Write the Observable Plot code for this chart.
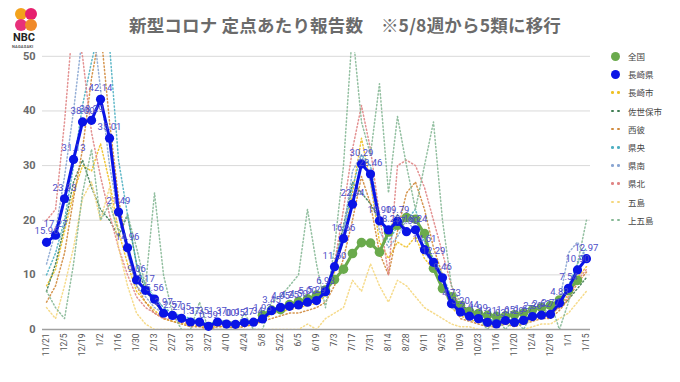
<!DOCTYPE html>
<html><head><meta charset="utf-8">
<script src="https://cdn.jsdelivr.net/npm/d3@7"></script>
<script src="https://cdn.jsdelivr.net/npm/@observablehq/plot@0.6"></script>
<style>
body{margin:0;background:#fff;font-family:Roboto,"Noto Sans CJK JP",sans-serif;}
#wrap{position:relative;width:680px;height:382px;overflow:hidden;background:#fff;}
#title{position:absolute;left:0;width:690px;top:12px;text-align:center;font-family:"Noto Sans CJK JP",sans-serif;font-weight:700;font-size:17.5px;color:#6b6b6b;letter-spacing:0.2px;}
#chart{position:absolute;left:0;top:52px;width:600px;height:330px;overflow:hidden;}
#chart svg{margin-top:-52px;display:block;}
#legend{position:absolute;left:606px;top:47px;font-family:"Noto Sans CJK JP",sans-serif;font-size:8.5px;color:#444;}
.li{height:18.2px;display:flex;align-items:center;}
.mk{width:18px;height:10px;position:relative;margin-right:4px;}
.logo{position:absolute;left:10px;top:6px;width:36px;height:46px;}
</style></head>
<body><div id="wrap">
<div class="logo">
 <div style="position:absolute;left:5px;top:2px;width:12px;height:12px;border-radius:50%;background:#f3a21b"></div>
 <div style="position:absolute;left:15px;top:2px;width:12px;height:12px;border-radius:50%;background:#e6206e"></div>
 <div style="position:absolute;left:5px;top:13px;width:12px;height:12px;border-radius:50%;background:#e8307a"></div>
 <div style="position:absolute;left:15px;top:13px;width:12px;height:12px;border-radius:50%;background:#f08a2a"></div>
 <div style="position:absolute;left:3px;top:25px;font:700 11px Roboto,sans-serif;color:#222;">NBC</div>
 <div style="position:absolute;left:2px;top:38px;font:700 4px Roboto,sans-serif;color:#555;letter-spacing:0.2px">NAGASAKI</div>
</div>
<div id="title">新型コロナ 定点あたり報告数　※5/8週から5類に移行</div>
<div id="chart"></div>
<div id="legend"></div>
</div>
<script>
const weeks = ["2022-11-21","2022-11-28","2022-12-05","2022-12-12","2022-12-19","2022-12-26",
"2023-01-02","2023-01-09","2023-01-16","2023-01-23","2023-01-30","2023-02-06","2023-02-13","2023-02-20","2023-02-27",
"2023-03-06","2023-03-13","2023-03-20","2023-03-27","2023-04-03","2023-04-10","2023-04-17","2023-04-24",
"2023-05-01","2023-05-08","2023-05-15","2023-05-22","2023-05-29","2023-06-05","2023-06-12","2023-06-19","2023-06-26",
"2023-07-03","2023-07-10","2023-07-17","2023-07-24","2023-07-31","2023-08-07","2023-08-14","2023-08-21","2023-08-28",
"2023-09-04","2023-09-11","2023-09-18","2023-09-25","2023-10-02","2023-10-09","2023-10-16","2023-10-23","2023-10-30",
"2023-11-06","2023-11-13","2023-11-20","2023-11-27","2023-12-04","2023-12-11","2023-12-18","2023-12-25",
"2024-01-01","2024-01-08","2024-01-15"];
const tickLabels = ["11/21","12/5","12/19","1/2","1/16","1/30","2/13","2/27","3/13","3/27","4/10","4/24","5/8","5/22","6/5","6/19","7/3","7/17","7/31","8/14","8/28","9/11","9/25","10/9","10/23","11/6","11/20","12/4","12/18","1/1","1/15"];
const yTicks = [0,10,20,30,40,50];

// 長崎県
const nagasakiKen = [15.96,17.27,23.93,31.13,38.00,38.29,42.14,35.01,21.49,14.96,
9.06,7.17,5.56,2.97,2.57,2.05,1.37,1.35,0.59,1.37,
1.00,0.95,1.27,1.34,1.93,3.45,4.05,4.25,4.50,5.00,
5.29,6.93,11.50,16.66,22.94,30.29,28.46,19.90,18.23,19.79,
17.90,18.24,14.61,12.29,9.46,4.73,3.20,2.44,1.99,1.31,
1.03,1.65,1.29,1.67,2.36,2.62,2.77,4.83,7.54,10.90,12.97];
// 全国 (from 5/8 week)
const zenkoku = [null,null,null,null,null,null,null,null,null,null,null,null,null,null,null,null,null,null,null,null,null,null,null,null,
2.63,3.56,3.63,4.55,5.11,5.60,6.31,7.24,9.14,11.04,13.91,15.91,15.81,14.16,17.84,19.07,
20.50,20.19,17.54,11.20,7.50,6.00,4.40,3.30,2.90,2.60,2.40,2.50,2.70,3.00,3.60,4.00,4.40,5.40,7.10,9.00,null];

const nagasakiShi = [8,11,18,25,30,29,34,27,18,12, 7,5,3.5,2,1.5,1.2,0.8,0.6,0.3,0.6, 0.5,0.4,0.7,0.8,1.5,2.8,3.3,3.6,4.0,4.4,
4.8,6.2,10.5,16.5,25,35,27,16,13,16, 15,17,13,11,8,4,2.5,1.8,1.4,1.0, 0.7,1.2,1.0,1.3,2.0,2.2,2.5,4.2,6.5,9.5,11.5];
const sasebo = [7,12,19,27,31,26,22,20,17,21, 12,7,5,3,2.5,2,1.6,1.5,1.0,1.6, 1.5,1.2,1.5,1.6,2.2,3.6,4.2,4.6,4.6,5.2,
5.6,7.2,12,19,27,25,23,20,18,21, 18,18,15,12,9.5,5,3.5,2.6,2.0,1.5, 1.5,2.0,1.5,2.0,2.6,3.0,3.2,4.0,5.5,7.5,9.5];
const seihi = [5,8,14,24,33,46,55,38,24,14, 8,5,3,2,1.5,1,0.5,0.5,0,0.5, 0.5,0.3,0.5,1,1.5,2,2.5,3,3,3.5,
4,5,8,13,20,28,23,14,10,18, 25,27,22,15,10,5,2,1.5,1,0.5, 0.5,1,0.5,1,1.5,2,2,3.5,5.5,8.5,10.5];
const kenou = [10,14,20,30,41,49,56,52,31,21, 12,8,6,4,3,2.5,2,1.5,1,1.5, 1.5,1,1.5,1.5,2,3.5,4.5,4.5,5,5.5,
6,7,12,18,26,32,30,21,16,19, 20,22,16,13,10,6,4,3,2.5,2, 1.5,2,1.5,2,2.5,3,3,5,8,12,15];
const kennan = [12,18,28,40,54,58,44,30,21,14, 8,6,4,3,2.5,2,1.5,1,1,1, 1.5,1,1,1.5,2,3,4,4,4.5,5,
5,7,11,18,29,32,27,18,15,17, 20,18,14,12,8,4,3,2,1.5,1, 1,1.5,1,1.5,2,2.5,3,5,14,16,13];
const kenhoku = [20,22,38,58,50,36,28,21,15,10, 6,4,3,2,2,1.5,1,1,0.5,1, 1,1,1,1.5,2,3,3.5,4,4.5,5,
5,7,12,22,33,41,33,21,10,30, 31,30,26,20,14,8,4,3,2,1.5, 1,1.5,1,1.5,2,2.5,3,4,6,9,11];
const goto = [4,2,8,15,24,27,20,26,15,8, 3,1,0,0,0,0,0,0,0,0, 0,0,0,0,0,0,0,0,0,1,
0,2,3,4,9,7,12,8,5,9, 8,6,4,3,2,1,0.5,0.5,0,0, 0,0,0,0,0.5,1,1,2,3,5,7];
const kamigoto = [7,4,2,12,25,33,20,23,18,21, 15,8,25,10,3,0,0,5,0,0, 0,0,3,0,0,5,6,8,10,22,
12,4,15,30,55,38,32,45,25,39, 30,22,30,38,20,8,5,3,2,0, 2,0,2,0,3,2,5,0,5,12,20];

const dottedSeries = [
  {name:"長崎市", values:nagasakiShi, color:"#efc125"},
  {name:"佐世保市", values:sasebo, color:"#3f7d52"},
  {name:"西彼", values:seihi, color:"#d08a3c"},
  {name:"県央", values:kenou, color:"#4fb0c2"},
  {name:"県南", values:kennan, color:"#8aa6d2"},
  {name:"県北", values:kenhoku, color:"#e08585"},
  {name:"五島", values:goto, color:"#f5d77e"},
  {name:"上五島", values:kamigoto, color:"#86b896"}
];
const blue = "#0a14e6", green = "#6aaa4c";

const ken = weeks.map((w,i)=>({week:w, v:nagasakiKen[i]}));
const zen = weeks.map((w,i)=>({week:w, v:zenkoku[i]})).filter(d=>d.v!=null);
const tickWeeks = tickLabels.map((t,k)=>weeks[2*k]);
const labelOf = new Map(tickWeeks.map((w,k)=>[w,tickLabels[k]]));

const marks = [
  Plot.ruleY(yTicks.slice(1), {stroke:"#d9d9d9", strokeWidth:1}),
  Plot.ruleY([0], {stroke:"#a0a0a0", strokeWidth:1.5}),
];
for (const s of dottedSeries) {
  marks.push(Plot.line(weeks.map((w,i)=>({week:w, v:s.values[i]})), {x:"week", y:"v", stroke:s.color, strokeWidth:1.5, strokeDasharray:"1.2,2.4", strokeOpacity:0.9, clip:true}));
}
marks.push(
  Plot.line(zen, {x:"week", y:"v", stroke:green, strokeWidth:3}),
  Plot.dot(zen, {x:"week", y:"v", r:4.8, fill:green}),
  Plot.line(ken, {x:"week", y:"v", stroke:blue, strokeWidth:3}),
  Plot.dot(ken, {x:"week", y:"v", r:4.6, fill:blue}),
  Plot.text(ken, {x:"week", y:"v", text:d=>d.v.toFixed(2), dy:-11, fill:"#4d4dc8", fontSize:9.5, fontFamily:"Roboto, sans-serif"}),
  Plot.axisY({ticks:yTicks, tickSize:0, tickPadding:7, fontSize:11, fontWeight:"bold", color:"#6a6a6a", label:null}),
  Plot.axisX({ticks:tickWeeks, tickFormat:d=>labelOf.get(d), tickRotate:-90, tickSize:0, tickPadding:4, fontSize:8.5, color:"#555", label:null})
);

const chart = Plot.plot({
  width:600, height:382,
  marginLeft:42, marginRight:10, marginTop:52, marginBottom:53,
  x:{type:"point", domain:weeks, padding:0.45},
  y:{domain:[0,50.7]},
  style:{fontFamily:"Roboto, sans-serif", background:"transparent", overflow:"visible"},
  marks
});
document.getElementById("chart").appendChild(chart);

// legend
const legendItems = [{name:"全国", color:green, type:"dot"},{name:"長崎県", color:blue, type:"dot"}]
  .concat(dottedSeries.map(s=>({name:s.name, color:s.color, type:"dash"})));
const lg = document.getElementById("legend");
for (const it of legendItems) {
  const row = document.createElement("div"); row.className="li";
  const mk = document.createElement("div"); mk.className="mk";
  if (it.type==="dot") {
    mk.innerHTML = `<div style="position:absolute;left:5px;top:0.5px;width:9px;height:9px;border-radius:50%;background:${it.color}"></div>`;
  } else {
    mk.innerHTML = `<div style="position:absolute;left:5px;top:4px;width:2.6px;height:2.6px;border-radius:50%;background:${it.color}"></div><div style="position:absolute;left:11px;top:4px;width:2.6px;height:2.6px;border-radius:50%;background:${it.color}"></div>`;
  }
  const tx = document.createElement("span"); tx.textContent = it.name;
  row.appendChild(mk); row.appendChild(tx); lg.appendChild(row);
}
</script>
</body></html>
